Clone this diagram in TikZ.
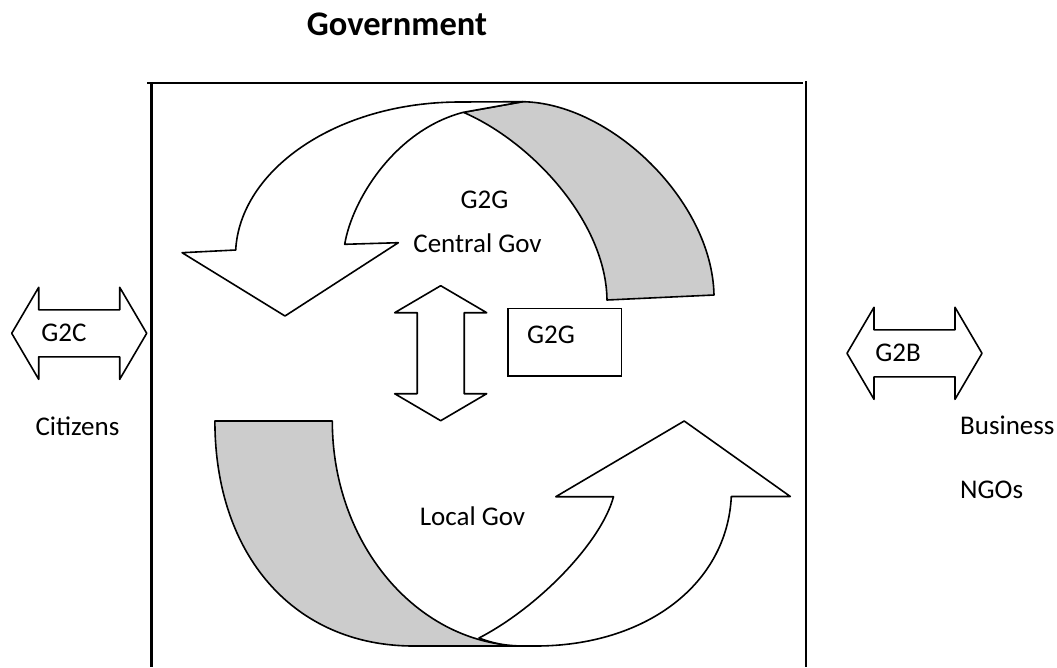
\documentclass[tikz,border=0pt]{standalone}
\usepackage{fontspec}
\setmainfont{Carlito}
\usetikzlibrary{positioning}

\tikzset{
  lbl/.style={inner sep=0pt,font=\fontsize{27}{32}\selectfont},
  ribbon/.style={draw=black,line width=1.6pt,line join=round},
  back/.style={ribbon,fill=gray!40},
  front/.style={ribbon,fill=white},
  frameline/.style={line width=2.4pt},
  twoway/.pic={
    \draw[front] (-67.5,0) -- (-40.5,-46) -- (-40.5,-23.5) -- (40.5,-23.5) -- (40.5,-46)
      -- (67.5,0) -- (40.5,46) -- (40.5,23.5) -- (-40.5,23.5) -- (-40.5,46) -- cycle;
  }
}

\begin{document}
\begin{tikzpicture}[x=1pt,y=-1pt]
\useasboundingbox (0,0) rectangle (1057,667);

% frame round the government block
\draw[frameline] (147,83) -- (803,83);
\draw[frameline] (151.5,83) -- (151.5,667);
\draw[frameline] (806,81) -- (806,667);

\node[inner sep=0pt,font=\bfseries\fontsize{34.5}{40}\selectfont,anchor=base] (gov) at (397,35) {Government};

% central gov: back of the ribbon, then its front with the head
\coordinate (cj) at (463.4,112.3);
\draw[back] (cj) -- (522.7,101.7) .. controls (610,103) and (712,200) .. (714,295)
  -- (607,300) .. controls (606,222) and (532,142) .. (cj) -- cycle;
\draw[front] (235.7,250) .. controls (240,170) and (336.3,102) .. (460,102) -- (522.7,101.7)
  -- (cj) .. controls (395,130) and (352,200) .. (344.7,244.3)
  -- (398.3,242.7) -- (285,316) -- (182.1,252.7) -- cycle;

% local gov: back of the ribbon, then its front with the head
\coordinate (lj) at (479,638);
\draw[back] (214.9,421) .. controls (214.9,555.8) and (294.4,646) .. (413.6,646)
  -- (525,646) .. controls (418.6,646) and (332.3,545.2) .. (332.3,421) -- cycle;
\draw[front] (lj) .. controls (539.3,606.7) and (601.5,541.7) .. (613.5,496.7)
  -- (555.8,496.7) -- (684.2,421) -- (790.3,496.5) -- (731.3,496.5)
  .. controls (727,585) and (645,646) .. (535.6,646) -- (525,646)
  .. controls (505,646) and (492,643) .. (lj) -- cycle;

% two-way arrows
\pic (cg) at (79.2,333.3) {twoway};
\pic (bg) at (914.5,353.3) {twoway};
\pic[rotate=90] (gg) at (440.7,353.2) {twoway};

\node[draw,line width=1.6pt,minimum width=113.6pt,minimum height=67.7pt,inner sep=0pt] (g2gbox) at (564.5,342.2) {};

\node[lbl] (g2gmid) at (551,335) {G2G};
\node[lbl] (g2gtop) at (484.4,200) {G2G};
\node[lbl] (central) at (477.5,243.5) {Central Gov};
\node[lbl] (local) at (472.5,516.7) {Local Gov};
\node[lbl] (g2c) at (64,333) {G2C};
\node[lbl] (g2b) at (898,353) {G2B};
\node[lbl] (citizens) at (77.5,426) {Citizens};
\node[lbl,anchor=west] (business) at (960,425) {Business};
\node[lbl,below=65pt of business.west,anchor=west] (ngos) {NGOs};
\end{tikzpicture}
\end{document}
